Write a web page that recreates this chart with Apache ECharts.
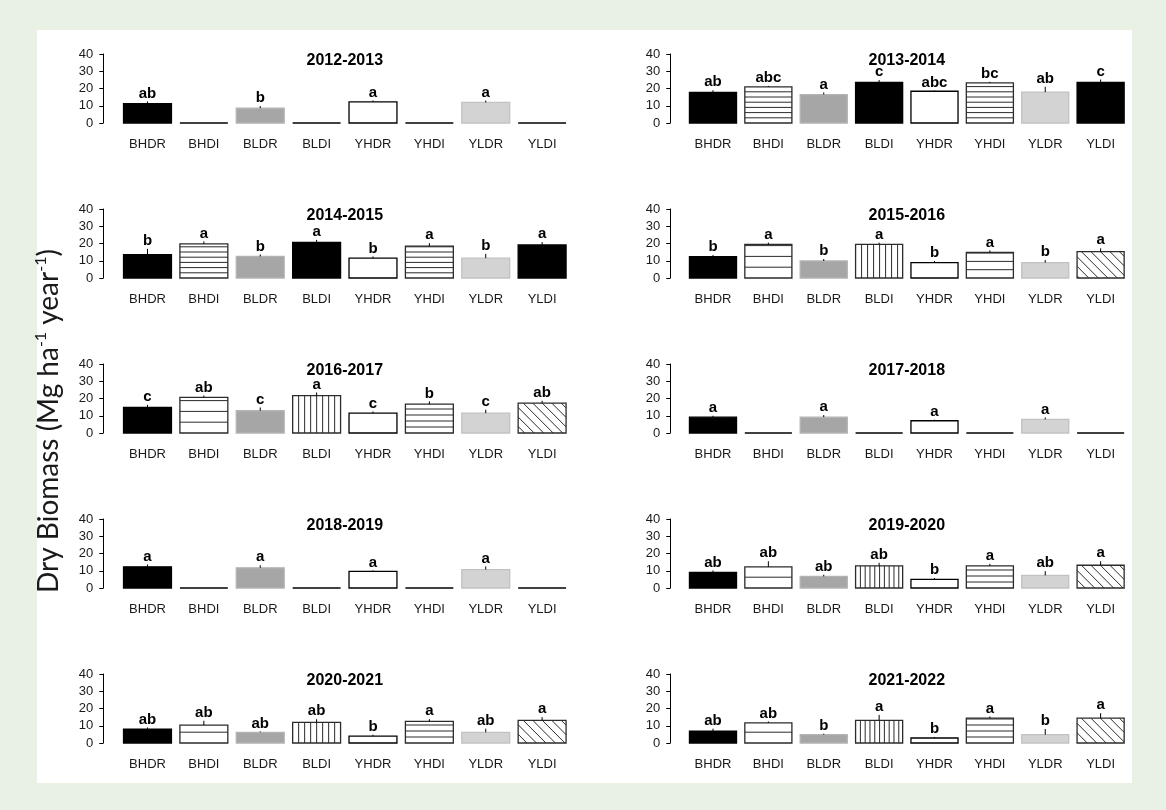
<!DOCTYPE html>
<html>
<head>
<meta charset="utf-8">
<script src="https://cdn.jsdelivr.net/npm/echarts@6/dist/echarts.min.js"></script>
<style>
  html, body { margin: 0; padding: 0; background: #e8f1e4; }
  #chart { width: 1166px; height: 810px; }
</style>
</head>
<body>
<div id="chart"></div>
<script>
// Treatments on every panel
const treatments = ['BHDR', 'BHDI', 'BLDR', 'BLDI', 'YHDR', 'YHDI', 'YLDR', 'YLDI'];
const yTicks = [0, 10, 20, 30, 40];

// Mean dry biomass (Mg ha-1 year-1), standard errors and significance letters per season
const mean2012 = [11.2, 0, 8.6, 0, 12.3, 0, 11.9, 0];
const se2012 = [1.3, 0, 1.2, 0, 0.8, 0, 1.1, 0];
const let2012 = ['ab', '', 'b', '', 'a', '', 'a', ''];

const mean2013 = [17.7, 20.9, 16.5, 23.5, 18.4, 23.3, 17.9, 23.5];
const se2013 = [1.3, 0.6, 1.2, 1.4, 0.4, 0.6, 3.1, 1.7];
const let2013 = ['ab', 'abc', 'a', 'c', 'abc', 'bc', 'ab', 'c'];

const mean2014 = [13.5, 19.8, 12.5, 20.6, 11.5, 18.5, 11.5, 19.2];
const se2014 = [3.4, 1.4, 1.2, 1.5, 1.0, 1.7, 2.5, 1.6];
const let2014 = ['b', 'a', 'b', 'a', 'b', 'a', 'b', 'a'];

const mean2015 = [12.4, 19.5, 9.9, 19.5, 8.9, 14.9, 8.9, 15.3];
const se2015 = [0.9, 1.0, 1.1, 1.0, 1.0, 1.1, 1.5, 1.9];
const let2015 = ['b', 'a', 'b', 'a', 'b', 'a', 'b', 'a'];

const mean2016 = [14.8, 20.6, 12.9, 21.7, 11.5, 16.7, 11.5, 17.3];
const se2016 = [1.5, 1.1, 1.9, 1.8, 1.0, 1.6, 2.0, 1.4];
const let2016 = ['c', 'ab', 'c', 'a', 'c', 'b', 'c', 'ab'];

const mean2017 = [9.2, 0, 9.2, 0, 7.1, 0, 7.9, 0];
const se2017 = [0.8, 0, 1.2, 0, 0.6, 0, 1.1, 0];
const let2017 = ['a', '', 'a', '', 'a', '', 'a', ''];

const mean2018 = [12.3, 0, 11.7, 0, 9.6, 0, 10.7, 0];
const se2018 = [1.3, 0, 1.5, 0, 0.6, 0, 1.8, 0];
const let2018 = ['a', '', 'a', '', 'a', '', 'a', ''];

const mean2019 = [9.0, 12.3, 6.7, 12.8, 5.0, 12.8, 7.3, 13.2];
const se2019 = [1.2, 3.2, 1.0, 1.8, 0.7, 1.2, 2.5, 2.3];
const let2019 = ['ab', 'ab', 'ab', 'ab', 'b', 'a', 'ab', 'a'];

const mean2020 = [8.1, 10.4, 6.2, 11.9, 4.0, 12.5, 6.2, 13.1];
const se2020 = [0.9, 2.5, 0.5, 1.9, 0.8, 1.3, 2.1, 1.9];
const let2020 = ['ab', 'ab', 'ab', 'ab', 'b', 'a', 'ab', 'a'];

const mean2021 = [6.9, 11.7, 4.8, 13.1, 2.9, 14.4, 4.8, 14.4];
const se2021 = [1.4, 0.8, 0.6, 3.2, 0.6, 1.0, 3.3, 2.9];
const let2021 = ['ab', 'ab', 'b', 'a', 'b', 'a', 'b', 'a'];

// Fill styles: solid colours and hatch patterns (gap in px)
const K = { kind: 'solid', fill: '#000000', stroke: '#000000' };
const G = { kind: 'solid', fill: '#a6a6a6', stroke: '#b3b3b3' };
const W = { kind: 'solid', fill: '#ffffff', stroke: '#000000' };
const L = { kind: 'solid', fill: '#d3d3d3', stroke: '#c2c2c2' };
const H5 = { kind: 'h', gap: 5.2 };
const H6 = { kind: 'h', gap: 6 };
const H8 = { kind: 'h', gap: 8.3 };
const H11 = { kind: 'h', gap: 10.8 };
const V5 = { kind: 'v', gap: 4.8 };
const V6 = { kind: 'v', gap: 6 };
const D = { kind: 'd', gap: 9.5 };

const fillsA = [K, K, G, K, W, K, L, K];
const fills2013 = [K, H5, G, K, W, H5, L, K];
const fills2015 = [K, H11, G, V6, W, H8, L, D];
const fills2016 = [K, H11, G, V6, W, H6, L, D];
const fills2019 = [K, H11, G, V5, W, H6, L, D];
const fills2020 = [K, H11, G, V6, W, H6, L, D];

const panels = [
  { season: '2012-2013', mean: mean2012, se: se2012, letters: let2012, fills: fillsA },
  { season: '2013-2014', mean: mean2013, se: se2013, letters: let2013, fills: fills2013 },
  { season: '2014-2015', mean: mean2014, se: se2014, letters: let2014, fills: fills2013 },
  { season: '2015-2016', mean: mean2015, se: se2015, letters: let2015, fills: fills2015 },
  { season: '2016-2017', mean: mean2016, se: se2016, letters: let2016, fills: fills2016 },
  { season: '2017-2018', mean: mean2017, se: se2017, letters: let2017, fills: fillsA },
  { season: '2018-2019', mean: mean2018, se: se2018, letters: let2018, fills: fillsA },
  { season: '2019-2020', mean: mean2019, se: se2019, letters: let2019, fills: fills2019 },
  { season: '2020-2021', mean: mean2020, se: se2020, letters: let2020, fills: fills2020 },
  { season: '2021-2022', mean: mean2021, se: se2021, letters: let2021, fills: fills2019 }
];

// Panel layout
const cols = [
  { left: 119.3, width: 451, offset: 16 },
  { left: 685.3, width: 443, offset: 15 }
];
const rowTop0 = 54, rowStep = 155, plotH = 69;
const FONT = '"Liberation Sans", Arial, sans-serif';

function hatchLines(style, x1, y1, x2, y2) {
  const out = [];
  const ls = { stroke: '#2b2b2b', lineWidth: 1 };
  if (style.kind === 'h') {
    for (let y = y2 - style.gap; y > y1 + 0.5; y -= style.gap) {
      out.push({ type: 'line', shape: { x1: x1, y1: y, x2: x2, y2: y }, style: ls });
    }
  } else if (style.kind === 'v') {
    for (let x = x1 + style.gap; x < x2 - 0.5; x += style.gap) {
      out.push({ type: 'line', shape: { x1: x, y1: y1, x2: x, y2: y2 }, style: ls });
    }
  } else if (style.kind === 'd') {
    // lines running down-right: y - x = c
    for (let c = y1 - x2 + style.gap / 2; c < y2 - x1; c += style.gap) {
      const xs = Math.max(x1, y1 - c), xe = Math.min(x2, y2 - c);
      if (xe > xs) {
        out.push({ type: 'line', shape: { x1: xs, y1: xs + c, x2: xe, y2: xe + c }, style: ls });
      }
    }
  }
  return out;
}

function makeRenderer(panel) {
  return function (params, api) {
    const j = api.value(0), m = api.value(1), s = api.value(2);
    const base = api.coord([j, 0]);
    const top = api.coord([j, m]);
    const errTop = api.coord([j, m + s]);
    const bw = api.size([1, 0])[0] * 0.85;
    const x1 = base[0] - bw / 2, x2 = base[0] + bw / 2;
    const y1 = top[1], y2 = base[1];
    const children = [];
    if (m <= 0) {
      children.push({ type: 'line', shape: { x1: x1, y1: y2, x2: x2, y2: y2 },
        style: { stroke: '#000000', lineWidth: 1.5 } });
      return { type: 'group', children: children };
    }
    const st = panel.fills[j];
    if (st.kind === 'solid') {
      children.push({ type: 'rect', shape: { x: x1, y: y1, width: bw, height: y2 - y1 },
        style: { fill: st.fill, stroke: st.stroke, lineWidth: 1.3 } });
    } else {
      children.push({ type: 'rect', shape: { x: x1, y: y1, width: bw, height: y2 - y1 },
        style: { fill: '#ffffff' } });
      hatchLines(st, x1, y1, x2, y2).forEach(function (l) { children.push(l); });
      children.push({ type: 'rect', shape: { x: x1, y: y1, width: bw, height: y2 - y1 },
        style: { fill: null, stroke: '#2b2b2b', lineWidth: 1.3 } });
    }
    // upper error bar
    children.push({ type: 'line', shape: { x1: base[0], y1: y1, x2: base[0], y2: errTop[1] },
      style: { stroke: '#000000', lineWidth: 1 } });
    const letter = panel.letters[j];
    if (letter) {
      children.push({ type: 'text', x: base[0], y: errTop[1] - 0.5,
        style: { text: letter, align: 'center', verticalAlign: 'bottom',
          font: 'bold 15px ' + FONT, fill: '#000000' } });
    }
    return { type: 'group', children: children };
  };
}

const grids = [], xAxes = [], yAxes = [], series = [];
const graphics = [
  { type: 'rect', z: -10, silent: true, shape: { x: 37, y: 30, width: 1095, height: 753 },
    style: { fill: '#ffffff' } },
  { type: 'text', x: 49, y: 421, rotation: Math.PI / 2, z: 10,
    style: {
      text: '{m|Dry Biomass (Mg ha}{s|-1}{m| year}{s|-1}{m|)}',
      align: 'center', verticalAlign: 'middle',
      rich: {
        m: { fontFamily: 'Lato, "Open Sans", sans-serif', fontSize: 28, lineHeight: 32, fill: '#1a1a1a', color: '#1a1a1a' },
        s: { fontFamily: 'Lato, "Open Sans", sans-serif', fontSize: 16, lineHeight: 16, verticalAlign: 'top', fill: '#1a1a1a', color: '#1a1a1a' }
      }
    } }
];

panels.forEach(function (p, i) {
  const col = cols[i % 2];
  const top = rowTop0 + rowStep * Math.floor(i / 2);
  grids.push({ left: col.left, top: top, width: col.width, height: plotH });
  xAxes.push({
    type: 'category', gridIndex: i, data: treatments, boundaryGap: true,
    axisLine: { show: false }, axisTick: { show: false }, splitLine: { show: false },
    axisLabel: { interval: 0, margin: 14.5, fontSize: 13, fontFamily: FONT, color: '#1a1a1a' }
  });
  yAxes.push({
    type: 'value', gridIndex: i, min: yTicks[0], max: yTicks[yTicks.length - 1], interval: 10,
    offset: col.offset,
    axisLine: { show: true, lineStyle: { color: '#000000', width: 1 } },
    axisTick: { show: true, length: 4, lineStyle: { color: '#000000', width: 1 } },
    splitLine: { show: false },
    axisLabel: { margin: 10, fontSize: 13, fontFamily: FONT, color: '#1a1a1a' }
  });
  series.push({
    type: 'custom', xAxisIndex: i, yAxisIndex: i, clip: false,
    renderItem: makeRenderer(p),
    encode: { x: 0, y: 1 },
    data: p.mean.map(function (v, j) { return [j, v, p.se[j]]; })
  });
  graphics.push({
    type: 'text', x: col.left + col.width / 2, y: top + 6.5, z: 10,
    style: { text: p.season, align: 'center', verticalAlign: 'middle',
      font: 'bold 16px ' + FONT, fill: '#000000' }
  });
});

const chart = echarts.init(document.getElementById('chart'), null, { renderer: 'canvas' });
chart.setOption({
  animation: false,
  backgroundColor: 'transparent',
  grid: grids,
  xAxis: xAxes,
  yAxis: yAxes,
  series: series,
  graphic: graphics
});
</script>
</body>
</html>
